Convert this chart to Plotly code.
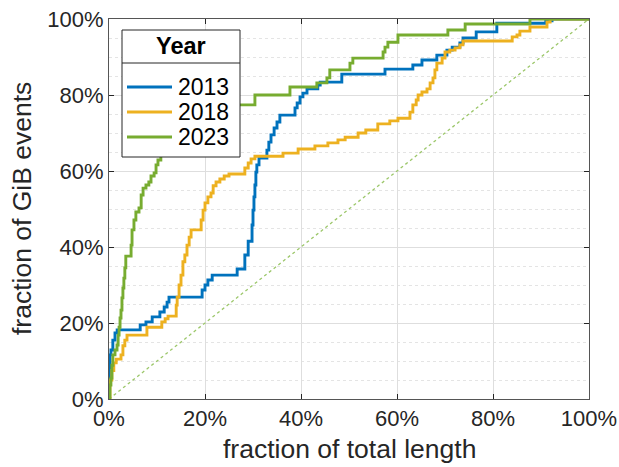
import plotly.graph_objects as go

# ---- data (percent) ----
years = ["2013", "2018", "2023"]
colors = ["#0072BD", "#EDB120", "#77AC30"]

x_2013 = [0, 0.1, 0.2, 0.4, 0.8, 1.25, 1.7, 6.5, 7.7, 9.0, 10.6, 11.5, 12.1, 12.5, 19.4, 20.0,
          20.6, 21.5, 26.7, 28.3, 29.0, 29.8, 30.0, 30.2, 30.4, 30.6, 30.8, 31.25, 32.9, 33.3,
          33.75, 34.4, 35.0, 35.6, 38.75, 39.2, 39.8, 40.4, 41.25, 43.5, 44.0, 48.5, 57.5, 63.3,
          65.2, 68.3, 70.4, 71.5, 73.1, 73.75, 76.5, 80.8, 91.0, 92.3, 100]
y_2013 = [0, 7.6, 11.6, 12.9, 15.5, 17.4, 18.2, 19.5, 20.3, 21.6, 22.9, 24.2, 25.5, 26.8, 28.7, 30.0,
          31.3, 32.6, 34.2, 37.9, 41.5, 45.8, 49.7, 53.2, 56.3, 59.7, 61.6, 63.4, 65.5, 67.6,
          69.5, 71.3, 72.9, 74.7, 76.6, 77.9, 79.5, 80.5, 81.6, 82.6, 83.4, 85.5, 86.8, 87.9,
          89.2, 90.5, 91.8, 92.6, 93.7, 95.0, 96.6, 98.9, 99.5, 100, 100]

x_2018 = [0, 0.2, 0.6, 1.0, 1.5, 2.5, 2.9, 3.3, 3.75, 7.9, 11.0, 11.7, 12.3, 14.0, 14.2, 14.6, 15.0,
          15.4, 15.8, 16.25, 16.7, 17.1, 19.2, 19.6, 20.0, 20.6, 21.25, 21.7, 22.3, 23.1, 24.0,
          25.0, 28.3, 29.0, 29.6, 30.4, 36.25, 39.4, 42.9, 45.6, 47.7, 49.2, 51.9, 53.5, 56.0,
          58.5, 60.2, 62.7, 63.3, 64.0, 64.4, 65.2, 66.25, 66.9, 67.5, 67.9, 68.3, 69.4, 70.0,
          71.0, 72.1, 73.1, 73.75, 84.0, 85.0, 85.6, 87.7, 91.25, 91.9, 100]
y_2018 = [0, 5.0, 7.5, 9.5, 10.5, 11.6, 14.0, 15.5, 16.8, 18.9, 20.3, 21.1, 21.8, 24.7, 26.8, 30.0,
          32.6, 36.1, 37.9, 40.5, 42.6, 44.5, 47.1, 49.7, 51.6, 53.2, 54.2, 56.1, 57.1, 57.9, 58.7,
          59.2, 60.8, 62.1, 63.2, 63.9, 64.7, 65.8, 66.6, 67.4, 68.2, 68.9, 70.0, 70.8, 72.4,
          73.2, 73.9, 75.5, 77.4, 78.7, 80.0, 80.8, 81.6, 83.2, 84.5, 86.6, 88.4, 89.7, 91.3,
          91.8, 92.4, 93.2, 94.2, 95.3, 95.8, 96.8, 97.9, 99.2, 100, 100]

x_2023 = [0, 0.2, 0.4, 0.6, 0.8, 1.25, 1.67, 1.9, 2.1, 2.3, 2.5, 2.7, 2.9, 3.1, 3.3, 3.5, 4.6, 4.8,
          5.2, 5.6, 6.25, 6.7, 7.1, 7.7, 8.3, 8.75, 9.4, 9.8, 10.2, 10.8, 11.7, 13.1, 14.8, 16.9,
          19.0, 21.0, 23.5, 25.6, 30.4, 37.7, 43.3, 45.4, 46.0, 50.2, 50.8, 57.1, 57.5, 58.1,
          60.2, 70.6, 74.2, 87.7, 100]
y_2023 = [0, 3.7, 5.5, 8.9, 11.6, 12.9, 14.2, 16.8, 18.9, 21.3, 23.4, 26.6, 29.2, 31.8, 34.5, 37.6,
          40.5, 44.5, 47.1, 49.2, 50.3, 53.7, 55.5, 56.3, 57.1, 58.7, 59.5, 61.6, 62.9, 64.2, 65.5,
          66.8, 68.2, 70.3, 72.1, 73.9, 75.5, 77.4, 80.0, 82.1, 83.2, 84.5, 86.6, 88.4, 89.7,
          91.3, 92.6, 93.9, 95.8, 97.1, 98.7, 100, 100]

ref_x = [0, 100]
ref_y = [0, 100]

tick_vals = [0, 20, 40, 60, 80, 100]
tick_text = ["0%", "20%", "40%", "60%", "80%", "100%"]

x_title = "fraction of total length"
y_title = "fraction of GiB events"
legend_title = "Year"

series_x = [x_2013, x_2018, x_2023]
series_y = [y_2013, y_2018, y_2023]

FONT = "Liberation Sans, Arial, sans-serif"
W, H = 619, 467
L, R, T, B = 109, 30, 19, 68
PW, PH = W - L - R, H - T - B

def px(xp):
    return (xp - L) / PW

def py(yp):
    return (H - B - yp) / PH

fig = go.Figure()
fig.add_trace(go.Scatter(x=ref_x, y=ref_y, mode="lines",
                         line=dict(color="#9CC76A", width=1.3, dash="dot"),
                         showlegend=False, hoverinfo="skip"))
for name, c, xs, ys in zip(years, colors, series_x, series_y):
    fig.add_trace(go.Scatter(x=xs, y=ys, mode="lines", name=name,
                             line=dict(color=c, width=2.9, shape="hv"),
                             showlegend=False))

axis_common = dict(
    range=[0, 100], tickmode="array", tickvals=tick_vals, ticktext=tick_text,
    ticks="inside", ticklen=5, tickwidth=1, automargin=False,
    tickcolor="#262626", showline=True, linecolor="#555555", linewidth=1,
    mirror="ticks", zeroline=False, showgrid=True, gridcolor="#DEDEDE",
    gridwidth=1, tickfont=dict(family=FONT, size=22, color="#262626"),
)
fig.update_xaxes(**axis_common)
fig.update_yaxes(**axis_common,
                 minor=dict(dtick=5, showgrid=True, gridcolor="#E4E4E4", griddash="dot",
                            ticks=""))

# ---- legend box (manual, drawn over the plot) ----
bx0, bx1, by0, by1, bsep = 122, 240, 157, 30, 63
shapes = [
    dict(type="rect", xref="paper", yref="paper", x0=px(bx0), x1=px(bx1), y0=py(by0), y1=py(by1),
         fillcolor="white", line=dict(color="#262626", width=1), layer="above"),
    dict(type="line", xref="paper", yref="paper", x0=px(bx0), x1=px(bx1), y0=py(bsep), y1=py(bsep),
         line=dict(color="#262626", width=1), layer="above"),
]
annotations = [
    dict(text=y_title, xref="paper", yref="paper", x=px(22), y=0.5, textangle=-90,
         xanchor="center", yanchor="middle", showarrow=False,
         font=dict(family=FONT, size=26.5, color="#262626")),
    dict(text=x_title, xref="paper", yref="paper", x=0.5, y=py(449),
         xanchor="center", yanchor="middle", showarrow=False,
         font=dict(family=FONT, size=26.5, color="#262626")),
    dict(text="<b>" + legend_title + "</b>", xref="paper", yref="paper", x=px((bx0 + bx1) / 2),
         y=py(46.5), xanchor="center", yanchor="middle", showarrow=False,
         font=dict(family=FONT, size=23.5, color="black")),
]
for i, (name, c) in enumerate(zip(years, colors)):
    yy = 87 + 25 * i
    shapes.append(dict(type="line", xref="paper", yref="paper", x0=px(127), x1=px(172),
                       y0=py(yy), y1=py(yy), line=dict(color=c, width=2.9), layer="above"))
    annotations.append(dict(text=name, xref="paper", yref="paper", x=px(176), y=py(yy),
                            xanchor="left", yanchor="middle", showarrow=False,
                            font=dict(family=FONT, size=23, color="black")))

fig.update_layout(
    width=W, height=H, margin=dict(l=L, r=R, t=T, b=B),
    paper_bgcolor="white", plot_bgcolor="white",
    shapes=shapes, annotations=annotations, showlegend=False,
)
fig.write_html("out.html")
